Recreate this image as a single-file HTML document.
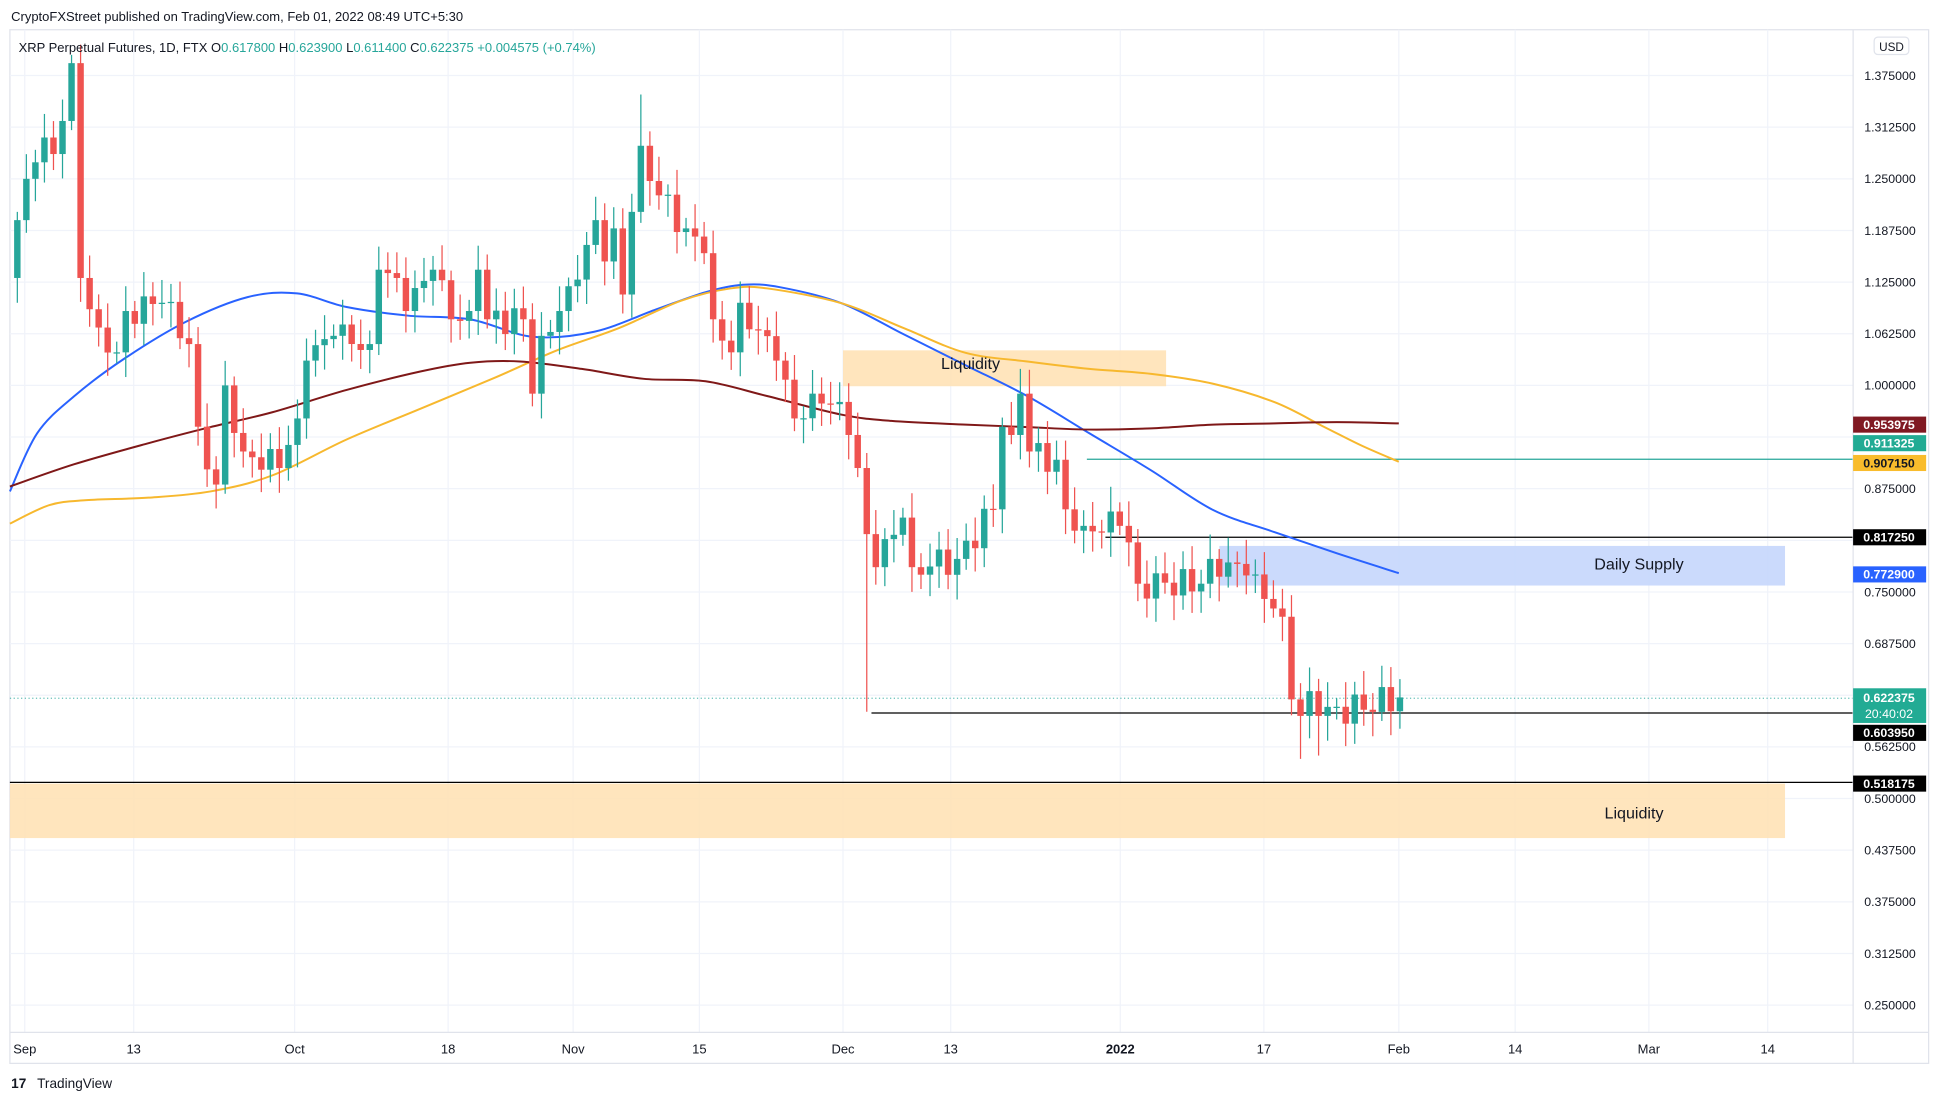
<!DOCTYPE html>
<html><head><meta charset="utf-8"><style>
html,body{margin:0;padding:0;background:#fff;overflow:hidden}
svg{display:block}
text{font-family:"Liberation Sans",sans-serif}
</style></head><body>
<svg id="s" xmlns="http://www.w3.org/2000/svg" width="1941" height="1103" viewBox="0 0 1568 891">
<rect width="1568" height="891" fill="#fff"/>
<text x="9" y="17" font-size="10.5" fill="#131722">CryptoFXStreet published on TradingView.com, Feb 01, 2022 08:49 UTC+5:30</text>
<rect x="8" y="24" width="1550" height="835" fill="none" stroke="#e0e3eb"/>
<g id="grid"></g>
<rect x="681" y="283" width="261" height="29" fill="#ffe0b2" opacity="0.85"/>
<rect x="985" y="441" width="457" height="32" fill="#c5d6fc" opacity="0.9"/>
<rect x="8" y="633" width="1434" height="44" fill="#ffe0b2" opacity="0.85"/>
<line x1="878" y1="371" x2="1497" y2="371" stroke="#26a69a" stroke-width="1"/>
<line x1="893" y1="434" x2="1497" y2="434" stroke="#000" stroke-width="1"/>
<line x1="704" y1="576" x2="1497" y2="576" stroke="#000" stroke-width="1"/>
<line x1="8" y1="632" x2="1497" y2="632" stroke="#000" stroke-width="1"/>
<line x1="8" y1="564" x2="1497" y2="564" stroke="#26a69a" stroke-width="0.8" stroke-dasharray="1,2"/>
<g id="ma"></g>
<g id="candles"></g>
<text x="784" y="298" font-size="13" text-anchor="middle" fill="#131722">Liquidity</text>
<text x="1324" y="460" font-size="13" text-anchor="middle" fill="#131722">Daily Supply</text>
<text x="1320" y="661" font-size="13" text-anchor="middle" fill="#131722">Liquidity</text>
<text x="15" y="42" font-size="10.5" fill="#131722">XRP Perpetual Futures, 1D, FTX <tspan fill="#131722">O</tspan><tspan fill="#26a69a">0.617800</tspan> <tspan>H</tspan><tspan fill="#26a69a">0.623900</tspan> <tspan>L</tspan><tspan fill="#26a69a">0.611400</tspan> <tspan>C</tspan><tspan fill="#26a69a">0.622375 +0.004575 (+0.74%)</tspan></text>
<line x1="1497" y1="24" x2="1497" y2="859" stroke="#e0e3eb"/>
<line x1="8" y1="834" x2="1558" y2="834" stroke="#e0e3eb"/>
<rect x="1514" y="30" width="28" height="14" rx="3" fill="#fff" stroke="#e0e3eb"/>
<text x="1528" y="41" font-size="9.5" text-anchor="middle" fill="#131722">USD</text>
<g id="axis"></g>
<g id="labels"></g>
<text x="9" y="879" font-size="11" font-weight="bold" fill="#131722">17</text>
<text x="30" y="879" font-size="11" fill="#131722">TradingView</text>
</svg>
<script>
var NS="http://www.w3.org/2000/svg";
function el(p,t,a,txt){var e=document.createElementNS(NS,t);for(var k in a)e.setAttribute(k,a[k]);if(txt!=null)e.textContent=txt;document.getElementById(p).appendChild(e);return e;}
function Y(p){return 61+(1.375-p)*667.5;}
var ticks=["1.375000","1.312500","1.250000","1.187500","1.125000","1.062500","1.000000","0.875000","0.750000","0.687500","0.562500","0.500000","0.437500","0.375000","0.312500","0.250000"];
for(var v=1.375;v>0.2;v-=0.0625){var y=Y(v);el("grid","line",{x1:8,y1:y,x2:1497,y2:y,stroke:"#f0f3fa"});}
ticks.forEach(function(t){el("axis","text",{x:1506,y:Y(parseFloat(t))+3.5,"font-size":10,fill:"#131722"},t);});
var dates=[["Sep",20],["13",108],["Oct",238],["18",362],["Nov",463],["15",565],["Dec",681],["13",768],["2022",905],["17",1021],["Feb",1130],["14",1224],["Mar",1332],["14",1428]];
dates.forEach(function(d){el("grid","line",{x1:d[1],y1:24,x2:d[1],y2:834,stroke:"#f0f3fa"});
el("axis","text",{x:d[1],y:851,"font-size":10.5,"text-anchor":"middle",fill:"#131722","font-weight":d[0]=="2022"?"bold":"normal"},d[0]);});
function pl(pts,c){var d="M"+pts[0][0]+","+pts[0][1];
for(var i=0;i<pts.length-1;i++){var p0=pts[i-1]||pts[i],p1=pts[i],p2=pts[i+1],p3=pts[i+2]||p2;
d+=" C"+(p1[0]+(p2[0]-p0[0])/6)+","+(p1[1]+(p2[1]-p0[1])/6)+" "+(p2[0]-(p3[0]-p1[0])/6)+","+(p2[1]-(p3[1]-p1[1])/6)+" "+p2[0]+","+p2[1];}
el("ma","path",{d:d,fill:"none",stroke:c,"stroke-width":1.6});}
pl([[8,397],[30,350],[60,320],[100,290],[150,260],[200,240],[240,237],[280,248],[330,255],[380,258],[430,272],[480,268],[530,250],[570,236],[600,230],[630,232],[680,245],[730,270],[780,295],[830,320],[880,350],[930,380],[980,412],[1030,430],[1080,447],[1130,463]],"#2962ff");
pl([[8,423],[40,408],[70,404],[120,402],[170,397],[220,384],[280,355],[340,330],[400,305],[450,283],[500,265],[550,243],[590,233],[620,233],[680,245],[730,265],[780,285],[830,292],[880,298],[930,302],[980,310],[1030,325],[1070,345],[1100,360],[1130,373]],"#f7b82e");
pl([[8,393],[60,375],[120,358],[170,345],[220,333],[280,315],[340,300],[380,293],[420,292],[470,298],[520,306],[570,308],[620,320],[680,335],[720,340],[780,343],[830,345],[880,347],[930,346],[980,343],[1030,342],[1080,341],[1130,342]],"#7f1818");
var kf=[[0,1.20],[1,1.25],[2,1.27],[3,1.30],[4,1.28],[5,1.32],[6,1.39],[7,1.13],[9,1.07],[11,1.04],[12,1.09],[16,1.10],[19,1.05],[20,0.95],[22,0.88],[23,1.00],[25,0.92],[29,0.90],[31,0.96],[32,1.03],[35,1.06],[39,1.05],[40,1.14],[42,1.13],[43,1.09],[46,1.14],[48,1.08],[50,1.09],[51,1.14],[52,1.08],[56,1.08],[57,0.99],[58,1.06],[60,1.09],[61,1.12],[63,1.17],[64,1.20],[65,1.15],[66,1.19],[67,1.11],[68,1.21],[69,1.29],[71,1.23],[74,1.19],[76,1.16],[77,1.08],[79,1.04],[80,1.10],[84,1.03],[86,0.96],[88,0.99],[91,0.98],[92,0.94],[93,0.90],[94,0.82],[95,0.78],[98,0.84],[99,0.78],[104,0.79],[108,0.85],[109,0.95],[110,0.94],[111,0.99],[112,0.92],[115,0.91],[116,0.85],[118,0.83],[122,0.83],[123,0.81],[124,0.76],[131,0.76],[132,0.79],[136,0.77],[139,0.73],[140,0.72],[141,0.62],[142,0.60],[143,0.63],[144,0.60],[153,0.622]];
var closes=[];
for(var k=0;k<kf.length-1;k++){var a=kf[k],b=kf[k+1];for(var i=a[0];i<b[0];i++){var t=(i-a[0])/(b[0]-a[0]);var c=a[1]+(b[1]-a[1])*t;if(i!=a[0])c+=0.018*Math.sin(i*2.3);closes[i]=c;}}
closes[153]=0.622375;
var prev=1.13;
for(var i=0;i<=153;i++){var o=prev,c=closes[i];var h=Math.max(o,c)+0.01+0.02*Math.abs(Math.sin(i*1.7)),l=Math.min(o,c)-0.01-0.02*Math.abs(Math.cos(i*1.3));
if(i==94)l=0.605;if(i==142)l=0.548;if(i==144)l=0.552;if(i==69)h=1.352;if(i==6)h=1.40;if(i==111)h=1.02;
var x=14+i*7.3,col=c>=o?"#26a69a":"#ef5350";
el("candles","line",{x1:x,y1:Y(h),x2:x,y2:Y(l),stroke:col,"stroke-width":1});
var yt=Y(Math.max(o,c)),yb=Y(Math.min(o,c));if(yb-yt<1)yb=yt+1;
el("candles","rect",{x:x-2.6,y:yt,width:5.2,height:yb-yt,fill:col});prev=c;}
function lab(y,txt,bg,fg){el("labels","rect",{x:1497,y:y-6.5,width:59,height:13,fill:bg});el("labels","text",{x:1526,y:y+3.5,"font-size":10,"text-anchor":"middle",fill:fg||"#fff","font-weight":"bold"},txt);}
lab(343,"0.953975","#801922");lab(358,"0.911325","#22ab94");lab(374,"0.907150","#f9bc2c","#131722");
lab(434,"0.817250","#000");lab(464,"0.772900","#2962ff");
el("labels","rect",{x:1497,y:556,width:59,height:28,fill:"#22ab94"});
el("labels","text",{x:1526,y:567,"font-size":10,"text-anchor":"middle",fill:"#fff","font-weight":"bold"},"0.622375");
el("labels","text",{x:1526,y:580,"font-size":10,"text-anchor":"middle",fill:"#fff"},"20:40:02");
lab(592,"0.603950","#000");lab(633,"0.518175","#000");
</script>
</body></html>
